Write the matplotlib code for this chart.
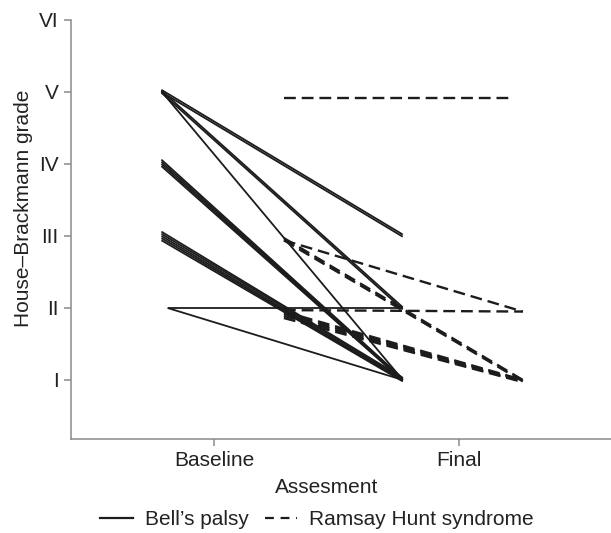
import matplotlib

matplotlib.use('Agg')
import matplotlib.pyplot as plt
from matplotlib.lines import Line2D

plt.rcParams['font.family'] = ['Liberation Sans', 'DejaVu Sans']

# House-Brackmann grade per patient, baseline -> final
bell_baseline = [5, 5, 5, 5, 5, 4, 4, 4, 4, 3, 3, 3, 3, 3, 2, 2]
bell_final = [3, 3, 2, 2, 1, 1, 1, 1, 1, 1, 1, 1, 1, 1, 2, 1]
ramsay_baseline = [5, 3, 3, 3, 2, 2, 2, 2, 2]
ramsay_final = [5, 2, 1, 1, 2, 1, 1, 1, 1]

grade_labels = ['I', 'II', 'III', 'IV', 'V', 'VI']
time_labels = ['Baseline', 'Final']

# small jitter so overlapping patients stay visible
bell_jit0 = [0.03, 0.0, 0.02, -0.01, 0.01, 0.06, 0.03, 0.0, -0.03, 0.06, 0.03, 0.0, -0.03, -0.06, 0.0, 0.0]
bell_jit1 = [0.02, -0.01, 0.01, -0.02, 0.0, 0.02, 0.01, 0.0, -0.01, 0.03, 0.02, 0.0, -0.01, -0.02, 0.0, 0.0]
rh_jit0 = [-0.08, -0.06, -0.03, -0.06, -0.03, -0.05, -0.08, -0.11, -0.14]
rh_jit1 = [-0.08, -0.05, 0.0, -0.02, -0.05, 0.0, -0.01, -0.02, -0.03]

ink = '#1c1c1c'
grey = '#8a8a8a'
fs = 15

fig = plt.figure(figsize=(6.11, 5.33), dpi=100)
ax = fig.add_axes([0.1162, 0.1764, 0.8838, 0.7861])

for i, (b, f, j0, j1) in enumerate(zip(bell_baseline, bell_final, bell_jit0, bell_jit1)):
    x0 = 0.81 if b == 2 else 0.785
    ax.plot([x0, 1.77], [b + j0, f + j1], color=ink, lw=1.3, solid_capstyle='butt')

for b, f, j0, j1 in zip(ramsay_baseline, ramsay_final, rh_jit0, rh_jit1):
    x1 = 2.22 if b == f == 5 else 2.26
    ax.plot([1.285, x1], [b + j0, f + j1], color=ink, lw=1.7, dashes=(5, 2.5))

ax.set_xlim(0.416, 2.62)
ax.set_ylim(0.18, 6.0)
ax.set_xticks([1, 2])
ax.set_xticklabels(time_labels)
ax.set_yticks(range(1, 7))
ax.set_yticklabels(grade_labels)

for s in ['top', 'right']:
    ax.spines[s].set_visible(False)
for s in ['left', 'bottom']:
    ax.spines[s].set_color(grey)
    ax.spines[s].set_linewidth(1.1)
ax.tick_params(colors=grey, length=5, width=1.1, pad=4, labelsize=fs, labelcolor='#222222')

ax.set_xlabel('Assesment', fontsize=fs, color='#222222')
ax.xaxis.set_label_coords(0.474, -0.093)
ax.set_ylabel('House–Brackmann grade', fontsize=fs, color='#222222')
ax.yaxis.set_label_coords(-0.07, 0.551)

handles = [Line2D([], [], color=ink, lw=1.6),
           Line2D([], [], color=ink, lw=1.6, dashes=(4, 3))]
fig.legend(handles, ["Bell’s palsy", 'Ramsay Hunt syndrome'], loc='center',
           bbox_to_anchor=(0.519, 0.025), ncol=2, frameon=False, fontsize=fs,
           handlelength=1.55, handletextpad=0.6, columnspacing=0.75,
           labelcolor='#222222')

fig.savefig('out.png', dpi=100)
